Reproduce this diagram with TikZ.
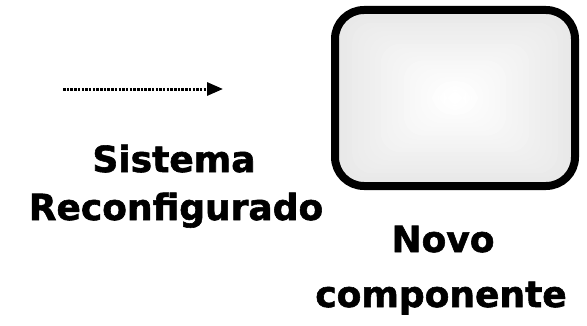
\documentclass[tikz,border=0pt]{standalone}
\usepackage{fontspec}
\setmainfont{DejaVu Sans}
\newfontfamily\heavyfont[FakeBold=1.6]{DejaVu Sans}
\usetikzlibrary{arrows.meta}
\tikzset{
  label/.style={anchor=base, inner sep=0pt, font=\fontsize{36bp}{40bp}\heavyfont\bfseries},
  boxframe/.style={draw=black, line width=8bp, rounded corners=29bp, minimum width=240bp, minimum height=176bp, inner sep=0pt},
  dotarrow/.style={line width=3bp, dash pattern=on 2.5bp off 1.2bp, -{Triangle[length=16bp,width=13bp]}}
}
\begin{document}
\begin{tikzpicture}[x=1bp,y=1bp]
\useasboundingbox (0,0) rectangle (587,325);
% shaded interior
\foreach \i in {0,...,19}{
  \pgfmathsetmacro\c{9*(1-\i/19)}
  \pgfmathsetmacro\w{120*(1-\i/21)}
  \pgfmathsetmacro\h{88*(1-\i/21)}
  \fill[black!\c, rounded corners=20bp] (455-\w,227-\h) rectangle (455+\w,227+\h);
}
\node[boxframe] (box) at (455,227) {};
% arrow
\coordinate (a0) at (63,236);
\coordinate (a1) at (223,236);
\draw[dotarrow] (a0) -- (a1);
% labels
\node[label] (t1) at (174,153) {Sistema};
\node[label] (t2) at (176,105) {Reconfigurado};
\node[label] (t3) at (443,73) {Novo};
\node[label] (t4) at (441,18) {componente};
\end{tikzpicture}
\end{document}
